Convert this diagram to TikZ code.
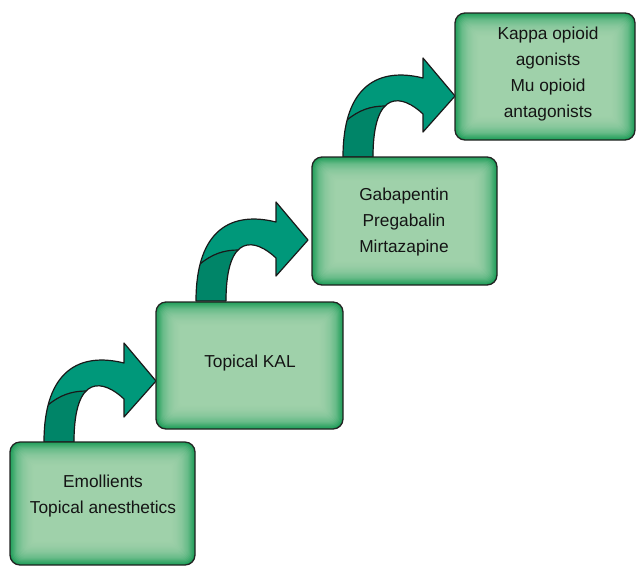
\documentclass[tikz,border=0pt]{standalone}
\usepackage{fontspec}
\setmainfont{Liberation Sans}
\usetikzlibrary{backgrounds}
\definecolor{boxedge}{RGB}{26,156,86}
\definecolor{boxlight}{RGB}{172,216,180}
\definecolor{boxline}{RGB}{35,35,35}
\definecolor{arrowlight}{RGB}{0,152,122}
\definecolor{arrowdark}{RGB}{0,133,104}
\definecolor{txt}{RGB}{20,20,20}
\newcommand{\arrowshape}{(0,0) .. controls (0,-72) and (36,-90) .. (80,-79) -- (80,-99) -- (112,-61) -- (80,-25) -- (80,-43) .. controls (60,-62) and (30,-70) .. (30,0) -- cycle}
\newcommand{\softbox}[1]{%
  \foreach \i in {1,...,20}{%
    \pgfmathsetmacro{\rr}{max(10-0.55*\i,3)}%
    \pgfmathsetmacro{\dd}{1.2*\i}%
    \fill[boxlight,fill opacity=0.13,rounded corners=\rr pt]
      ([shift={(\dd pt,\dd pt)}]#1.south west) rectangle ([shift={(-\dd pt,-\dd pt)}]#1.north east);
  }%
  \draw[boxborder] (#1.south west) rectangle (#1.north east);%
}
\tikzset{
  gbox/.style={rectangle, rounded corners=10pt, fill=boxedge, outer sep=0pt, inner sep=0pt},
  boxborder/.style={draw=boxline, line width=1.3pt, rounded corners=10pt},
  lbl/.style={align=center, text=txt, font=\fontsize{17.3}{26}\selectfont},
  arrowline/.style={draw=black!90, line width=1.2pt, line join=round},
  bendarrow/.pic={
    \fill[arrowlight] \arrowshape;
    \begin{scope}
      \clip \arrowshape;
      \fill[arrowdark] (-10,-35) -- (4,-37) .. controls (16,-47) and (28,-51) .. (42,-51) -- (47,5) -- (-10,5) -- cycle;
      \draw[arrowline] (4,-37) .. controls (16,-47) and (28,-51) .. (42,-51);
    \end{scope}
    \draw[arrowline] \arrowshape;
  }
}
\begin{document}
\begin{tikzpicture}[x=1pt,y=-1pt]
\useasboundingbox (0,0) rectangle (636,566);
% boxes
\node[gbox, minimum width=185pt, minimum height=123pt] (b1) at (102.5,503.5) {};
\node[gbox, minimum width=187pt, minimum height=127pt] (b2) at (249.5,365.5) {};
\node[gbox, minimum width=185pt, minimum height=128pt] (b3) at (404.5,221) {};
\node[gbox, minimum width=180pt, minimum height=127pt] (b4) at (545,76.5) {};
\softbox{b1}
\softbox{b2}
\softbox{b3}
\softbox{b4}
% labels
\node[lbl] (t1) at (103,496) {Emollients\\Topical anesthetics};
\node[lbl] (t2) at (250,363) {Topical KAL};
\node[lbl] (t3) at (404,222) {Gabapentin\\Pregabalin\\Mirtazapine};
\node[lbl] (t4) at (548,74) {Kappa opioid\\agonists\\Mu opioid\\antagonists};
% curved arrows
\begin{pgfonlayer}{background}
\pic at ([xshift=34pt]b1.north west) {bendarrow};
\pic at ([xshift=40pt,yshift=1pt]b2.north west) {bendarrow};
\pic at ([xshift=31pt]b3.north west) {bendarrow};
\end{pgfonlayer}
\end{tikzpicture}
\end{document}
